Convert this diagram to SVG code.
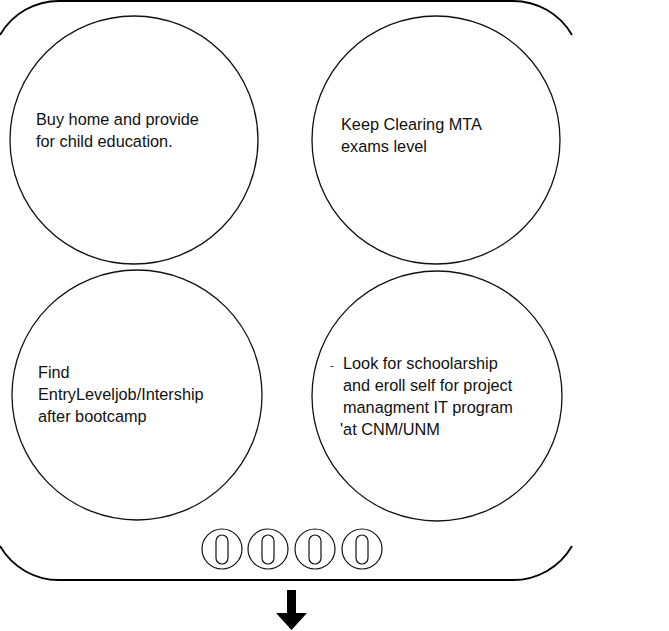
<svg xmlns="http://www.w3.org/2000/svg" width="669" height="631" viewBox="0 0 669 631">
<style>
.frame{fill:none;stroke:#000;stroke-width:1.8}
.burner{fill:none;stroke:#111;stroke-width:1.3}
.knob{fill:none;stroke:#111;stroke-width:1.2}
.t{font-family:"Liberation Sans",Arial,sans-serif;font-size:16.3px;fill:#111}
</style>
<rect width="669" height="631" fill="#fff"/>
<g id="frame">
<path class="frame" d="M0,35 A68,68 0 0 1 60,1 L512,1 A68,68 0 0 1 572,35"/>
<path class="frame" d="M572,546 A68,68 0 0 1 512,580 L60,580 A68,68 0 0 1 0,546"/>
</g>
<g id="burner-tl">
<circle class="burner" cx="134" cy="140" r="124"/>
<text class="t" x="36" y="125">Buy home and provide</text>
<text class="t" x="36" y="147">for child education.</text>
</g>
<g id="burner-tr">
<circle class="burner" cx="436" cy="140" r="124"/>
<text class="t" x="341" y="130">Keep Clearing MTA</text>
<text class="t" x="341" y="152">exams level</text>
</g>
<g id="burner-bl">
<circle class="burner" cx="137" cy="395" r="125"/>
<text class="t" x="38" y="378">Find</text>
<text class="t" x="38" y="400">EntryLeveljob/Intership</text>
<text class="t" x="38" y="422">after bootcamp</text>
</g>
<g id="burner-br">
<circle class="burner" cx="437" cy="396" r="125"/>
<text class="t" x="330" y="369" style="font-size:11px">-</text>
<text class="t" x="343" y="369">Look for schoolarship</text>
<text class="t" x="343" y="391">and eroll self for project</text>
<text class="t" x="343" y="413">managment IT program</text>
<text class="t" x="340" y="435">'at CNM/UNM</text>
</g>
<g id="knobs">
<g id="knob1"><circle class="knob" cx="222" cy="549" r="20"/><rect class="knob" x="216" y="535" width="12" height="29" rx="6"/></g>
<g id="knob2"><circle class="knob" cx="268" cy="549" r="20"/><rect class="knob" x="262" y="535" width="12" height="29" rx="6"/></g>
<g id="knob3"><circle class="knob" cx="315" cy="549" r="20"/><rect class="knob" x="309" y="535" width="12" height="29" rx="6"/></g>
<g id="knob4"><circle class="knob" cx="362" cy="549" r="20"/><rect class="knob" x="356" y="535" width="12" height="29" rx="6"/></g>
</g>
<g id="connectors">
<path d="M287,590 H296 V613 H307 L291.5,630 L276,613 H287 Z" fill="#000"/>
</g>
</svg>
